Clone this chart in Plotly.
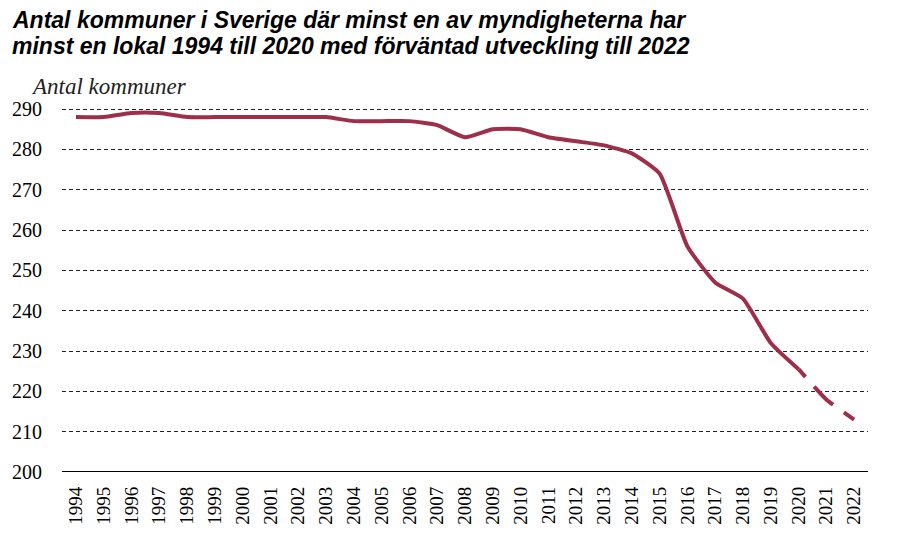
import plotly.graph_objects as go

years = [str(y) for y in range(1994, 2023)]
values = [288, 288, 289, 289, 288, 288, 288, 288, 288, 288, 287, 287, 287, 286, 283, 285, 285,
          283, 282, 281, 279, 274, 256, 247, 243, 232, 225.5, 218, 213]
actual_end = "2020"

title_lines = ["Antal kommuner i Sverige där minst en av myndigheterna har",
               "minst en lokal 1994 till 2020 med förväntad utveckling till 2022"]
y_label = "Antal kommuner"
y_ticks = [200, 210, 220, 230, 240, 250, 260, 270, 280, 290]

idx = years.index(actual_end)
color = "#9E2F4A"
serif = "Liberation Serif"

T, B = 105, 70
H = 542 - T - B

fig = go.Figure()
fig.add_trace(go.Scatter(x=years[:idx + 1], y=values[:idx + 1], mode="lines",
                         line=dict(color=color, width=4, shape="spline", smoothing=0.5),
                         hoverinfo="x+y", showlegend=False))
fig.add_trace(go.Scatter(x=years[idx:], y=values[idx:], mode="lines",
                         line=dict(color=color, width=4, shape="spline", smoothing=0.5,
                                   dash="10px,13px,27px,13px,30px"),
                         hoverinfo="x+y", showlegend=False))

annotations = []
for i, line in enumerate(title_lines):
    cy = [20, 46][i]
    annotations.append(dict(text="<b><i>" + line + "</i></b>", xref="paper", yref="paper",
                            x=-52 / 806, y=1 + (T - cy) / H, xanchor="left", yanchor="middle",
                            showarrow=False, align="left",
                            font=dict(family="Liberation Sans", size=23, color="black")))
annotations.append(dict(text="<i>" + y_label + "</i>", xref="paper", yref="paper",
                        x=-33 / 806, y=1 + (T - 87) / H, xanchor="left", yanchor="middle",
                        showarrow=False, align="left",
                        font=dict(family=serif, size=23, color="#222222")))

fig.update_layout(
    width=906, height=542,
    font=dict(family=serif, color="black"),
    margin=dict(l=62, r=38, t=T, b=B),
    plot_bgcolor="white", paper_bgcolor="white",
    showlegend=False,
    xaxis=dict(type="category", range=[-0.5, len(years) - 0.5], tickangle=-90,
               showgrid=False, showline=False, zeroline=False, ticks="", ticklabelstandoff=10,
               tickfont=dict(family=serif, size=19, color="black")),
    yaxis=dict(range=[200, 291], tickvals=y_ticks, showgrid=True,
               gridcolor="#222222", griddash="4px,3px", gridwidth=1,
               zeroline=False, showline=False, ticks="", ticklabelstandoff=19,
               tickfont=dict(family=serif, size=20, color="black")),
    annotations=annotations,
    shapes=[dict(type="line", xref="paper", yref="y", x0=0, x1=1, y0=200, y1=200,
                 line=dict(color="black", width=2))],
)

fig.write_html("out.html")
